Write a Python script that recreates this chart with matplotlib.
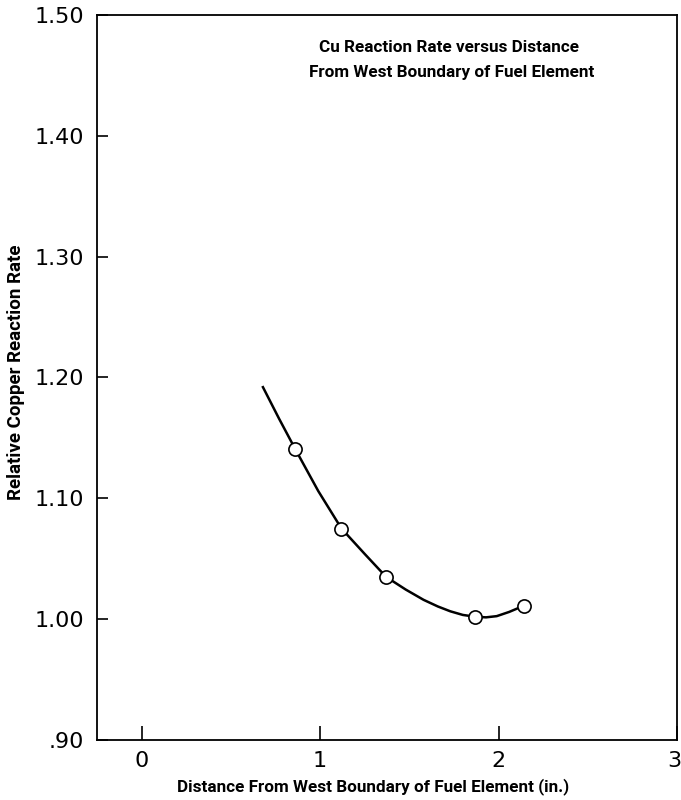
import matplotlib
matplotlib.use('Agg')
import matplotlib.pyplot as plt
import matplotlib.transforms as mtransforms

# measured copper reaction rates (open circles)
dist_in = [0.86, 1.12, 1.37, 1.87, 2.14]
rel_rate = [1.141, 1.075, 1.035, 1.002, 1.011]

# hand-faired curve through the measurements
curve_x = [0.68, 0.77, 0.86, 0.99, 1.12, 1.25, 1.37, 1.48, 1.58, 1.66, 1.73, 1.80, 1.87, 1.93, 1.99, 2.06, 2.14]
curve_y = [1.192, 1.166, 1.141, 1.106, 1.075, 1.054, 1.035, 1.0245, 1.016, 1.0105, 1.0065, 1.0035, 1.002, 1.0015, 1.0025, 1.006, 1.011]

x_ticks = [0, 1, 2, 3]
y_ticks = [0.90, 1.00, 1.10, 1.20, 1.30, 1.40, 1.50]
y_tick_labels = ['.90', '1.00', '1.10', '1.20', '1.30', '1.40', '1.50']

label_font = ['Roboto', 'DejaVu Sans']

fig = plt.figure(figsize=(6.81, 8.0), dpi=100)
ax = fig.add_axes([0.1424, 0.075, 0.8517, 0.9063])

ax.plot(curve_x, curve_y, color='black', lw=1.8, zorder=2)
ax.plot(dist_in, rel_rate, 'o', ms=9.5, mfc='white', mec='black', mew=1.2, zorder=3)

ax.set_xlim(-0.25, 3.0)
ax.set_ylim(0.90, 1.50)
ax.set_xticks(x_ticks)
ax.set_yticks(y_ticks)
ax.set_yticklabels(y_tick_labels)
ax.tick_params(direction='in', length=8, width=1.2, labelsize=16, pad=9)
ax.tick_params(axis='x', length=10, pad=8)

# last x label sits on the frame edge; pull it in a touch
last = ax.get_xticklabels()[-1]
last.set_transform(last.get_transform() +
                   mtransforms.ScaledTranslation(-3 / 100, 0, fig.dpi_scale_trans))

for s in ax.spines.values():
    s.set_linewidth(1.3)

ax.set_xlabel('Distance From West Boundary of Fuel Element (in.)',
              family=label_font, fontweight='bold', fontsize=12.3)
ax.set_ylabel('Relative Copper Reaction Rate',
              family=label_font, fontweight='bold', fontsize=13.5)
ax.xaxis.set_label_coords(0.476, -0.052)
ax.yaxis.set_label_coords(-0.124, 0.507)

ax.text(0.607, 0.955, 'Cu Reaction Rate versus Distance',
        transform=ax.transAxes, ha='center', va='center',
        family=label_font, fontweight='bold', fontsize=12.3)
ax.text(0.612, 0.920, 'From West Boundary of Fuel Element',
        transform=ax.transAxes, ha='center', va='center',
        family=label_font, fontweight='bold', fontsize=12.3)

fig.savefig('out.png', dpi=100)
